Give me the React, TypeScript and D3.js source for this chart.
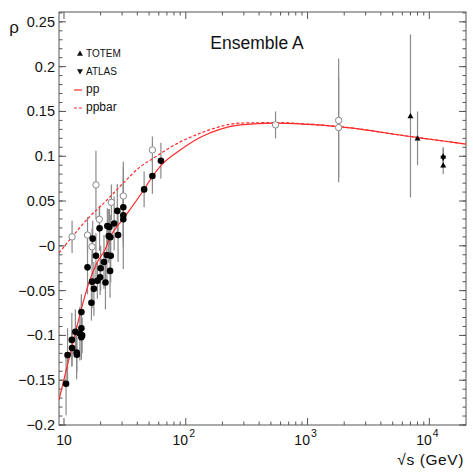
import React from 'react';
import * as d3 from 'd3';

// pp data (filled circles)
const ppS = [10.4, 10.7, 11.6, 11.65, 12.4, 12.7, 12.75, 13.5, 13.9, 13.9, 14.1, 13.9, 15.6, 16.8, 17.0, 17.6, 18.3, 18.8, 19.8, 20.0, 21.3, 21.9, 22.5, 23.9, 24.2,
  17.2, 19.6, 22.7, 23.6, 23.3, 24.0, 25.8, 27.4, 27.8, 30.7, 30.7, 30.7, 45.5, 53.2, 62.5];
const ppRho = [-0.154, -0.122, -0.105, -0.114, -0.096, -0.119, -0.1215, -0.098, -0.092, -0.102, -0.1, -0.074, -0.024, -0.0635, -0.04, -0.048, -0.011, -0.039, -0.035, -0.025, -0.018, -0.041, -0.0103, -0.028, -0.011,
  0.008, 0.0195, 0.022, 0.021, 0.011, 0.0095, 0.025, 0.039, 0.012, 0.043, 0.034, 0.0296, 0.063, 0.078, 0.095];
const ppErr = [0.035, 0.03, 0.03, 0.02, 0.025, 0.03, 0.02, 0.03, 0.035, 0.025, 0.02, 0.02, 0.03, 0.02, 0.03, 0.03, 0.025, 0.02, 0.02, 0.025, 0.03, 0.03, 0.03, 0.03, 0.03,
  0.02, 0.025, 0.02, 0.02, 0.03, 0.025, 0.03, 0.03, 0.03, 0.045, 0.06, 0.025, 0.02, 0.02, 0.02];

// ppbar data (open circles)
const pbS = [11.65, 15.6, 17.0, 18.3, 19.5, 24.5, 30.7, 53.2, 546, 1800, 1800];
const pbRho = [0.010, 0.012, -0.001, 0.068, 0.0296, 0.0485, 0.0556, 0.107, 0.135, 0.140, 0.132];
const pbErr = [0.018, 0.02, 0.02, 0.038, 0.015, 0.02, 0.02, 0.015, 0.015, 0.069, 0.056];

// TOTEM (up triangles), ATLAS (down triangles)
const totemS = [7000, 8000, 13000, 13000];
const totemRho = [0.145, 0.12, 0.09, 0.10];
const totemErr = [0.091, 0.03, 0.01, 0.01];
const atlasS = [13000];
const atlasRho = [0.098];
const atlasErr = [0.011];

// model curves
const ppCurveS = [9.1, 10, 11.6, 13.5, 15.85, 18.5, 21.75, 24, 31, 45, 53, 63, 90, 131, 190, 280, 540, 1000, 1800, 7000, 13000, 20000];
const ppCurveRho = [-0.172, -0.149, -0.113, -0.077, -0.043, -0.02, -0.004, 0.01, 0.031, 0.062, 0.077, 0.09, 0.107, 0.121, 0.13, 0.135, 0.137, 0.1355, 0.133, 0.122, 0.117, 0.1136];
const pbCurveS = [9.1, 11.65, 15.85, 21.75, 31.7, 42, 53, 90, 131, 190, 280, 540, 1000, 1800, 7000, 13000, 20000];
const pbCurveRho = [-0.008, 0.01, 0.031, 0.049, 0.072, 0.088, 0.097, 0.116, 0.1256, 0.133, 0.137, 0.1375, 0.136, 0.1332, 0.122, 0.117, 0.1136];

const yMajor = [0.25, 0.2, 0.15, 0.1, 0.05, 0, -0.05, -0.1, -0.15, -0.2];
const yLabels = ['0.25', '0.2', '0.15', '0.1', '0.05', '\u22120', '\u22120.05', '\u22120.1', '\u22120.15', '\u22120.2'];
const xMajor = [10, 100, 1000, 10000];
const xExp = ['', '2', '3', '4'];

const L = 59, R = 466, T = 12, B = 425;
const font = 'Liberation Sans, Arial, sans-serif';

export default function App() {
  const x = d3.scaleLog().domain([9.1, 20000]).range([L, R]);
  const y = d3.scaleLinear().domain([-0.2, 0.261]).range([B, T]);

  const yMinor = d3.range(-20, 27).map((i) => i / 100);
  const xMinor: number[] = [];
  [1, 10, 100, 1000, 10000].forEach((dec) => {
    for (let k = 2; k <= 9; k++) {
      const v = dec * k;
      if (v > 9.1 && v < 20000) xMinor.push(v);
    }
  });

  const line = d3.line<[number, number]>().x((d) => x(d[0])).y((d) => y(d[1])).curve(d3.curveMonotoneX);
  const ppPath = line(ppCurveS.map((s, i) => [s, ppCurveRho[i]]))!;
  const pbPath = line(pbCurveS.map((s, i) => [s, pbCurveRho[i]]))!;

  const errBars = (S: number[], V: number[], E: number[], key: string) =>
    S.map((s, i) => (
      <line key={key + i} x1={x(s)} x2={x(s)} y1={y(V[i] - E[i])} y2={y(V[i] + E[i])} stroke="#8a8a8a" strokeWidth={1.2} />
    ));

  const tri = (cx: number, cy: number, up: boolean, r = 3.6) =>
    up
      ? `M${cx},${cy - r} L${cx + r},${cy + r * 0.75} L${cx - r},${cy + r * 0.75} Z`
      : `M${cx},${cy + r} L${cx + r},${cy - r * 0.75} L${cx - r},${cy - r * 0.75} Z`;

  return (
    <svg width={473} height={473} style={{ position: 'absolute', left: 0, top: 0, background: '#fff' }} fontFamily={font}>
      <defs>
        <clipPath id="plot">
          <rect x={L} y={T} width={R - L} height={B - T} />
        </clipPath>
      </defs>

      {/* frame */}
      <rect x={L} y={T} width={R - L} height={B - T} fill="none" stroke="#555" strokeWidth={1} />

      {/* y ticks, left and right, inward */}
      {yMinor.map((v, i) => (
        <g key={'ym' + i} stroke="#555">
          <line x1={L} x2={L + 3.5} y1={y(v)} y2={y(v)} />
          <line x1={R} x2={R - 3.5} y1={y(v)} y2={y(v)} />
        </g>
      ))}
      {yMajor.map((v, i) => (
        <g key={'yM' + i} stroke="#555">
          <line x1={L} x2={L + 7} y1={y(v)} y2={y(v)} />
          <line x1={R} x2={R - 7} y1={y(v)} y2={y(v)} />
        </g>
      ))}
      {yMajor.map((v, i) => (
        <text key={'yl' + i} x={55} y={y(v) + 5} textAnchor="end" fontSize={14.5} fill="#111">
          {yLabels[i]}
        </text>
      ))}

      {/* x ticks, bottom and top, inward */}
      {xMinor.map((v, i) => (
        <g key={'xm' + i} stroke="#555">
          <line x1={x(v)} x2={x(v)} y1={B} y2={B - 3.5} />
          <line x1={x(v)} x2={x(v)} y1={T} y2={T + 3.5} />
        </g>
      ))}
      {xMajor.map((v, i) => (
        <g key={'xM' + i} stroke="#555">
          <line x1={x(v)} x2={x(v)} y1={B} y2={B - 7} />
          <line x1={x(v)} x2={x(v)} y1={T} y2={T + 7} />
        </g>
      ))}
      {xMajor.map((v, i) => (
        <text key={'xl' + i} x={x(v) + (xExp[i] ? -2 : 0)} y={445} textAnchor="middle" fontSize={14} fill="#111">
          10
          {xExp[i] && (
            <tspan dy={-8} dx={1} fontSize={10.5}>
              {xExp[i]}
            </tspan>
          )}
        </text>
      ))}

      {/* axis titles */}
      <text x={464} y={465} textAnchor="end" fontSize={15.5} fill="#111" letterSpacing={0.6}>
        {'\u221As  (GeV)'}
      </text>
      <text x={14} y={33} textAnchor="middle" fontSize={17} fill="#111">
        ρ
      </text>
      <text x={257} y={48.5} textAnchor="middle" fontSize={17.5} fill="#111">
        Ensemble A
      </text>

      {/* legend */}
      <path d={tri(80, 53.5, true, 3)} fill="#111" />
      <text x={86} y={57} fontSize={10} fill="#111">TOTEM</text>
      <path d={tri(80, 71.5, false, 3)} fill="#111" />
      <text x={86} y={75} fontSize={10} fill="#111">ATLAS</text>
      <line x1={74} x2={82} y1={90} y2={90} stroke="#ff2a2a" strokeWidth={1.2} />
      <text x={86} y={93} fontSize={12} fill="#111">pp</text>
      <line x1={74} x2={83} y1={108} y2={108} stroke="#ff2a2a" strokeWidth={1.2} strokeDasharray="3,2" />
      <text x={86} y={111} fontSize={12} fill="#111">ppbar</text>

      <g clipPath="url(#plot)">
        {errBars(ppS, ppRho, ppErr, 'pe')}
        {errBars(pbS, pbRho, pbErr, 'be')}
        {errBars(totemS, totemRho, totemErr, 'te')}
        {errBars(atlasS, atlasRho, atlasErr, 'ae')}

        <path d={pbPath} fill="none" stroke="#ff2a2a" strokeWidth={1.2} strokeDasharray="3,2" />
        <path d={ppPath} fill="none" stroke="#ff2a2a" strokeWidth={1.2} />

        {pbS.map((s, i) => (
          <circle key={'pb' + i} cx={x(s)} cy={y(pbRho[i])} r={3.2} fill="#fff" stroke="#888" strokeWidth={1} />
        ))}
        {ppS.map((s, i) => (
          <circle key={'pp' + i} cx={x(s)} cy={y(ppRho[i])} r={3.3} fill="#000" />
        ))}
        {totemS.map((s, i) => (
          <path key={'to' + i} d={tri(x(s), y(totemRho[i]), true, 3)} fill="#000" />
        ))}
        {atlasS.map((s, i) => (
          <path key={'at' + i} d={tri(x(s), y(atlasRho[i]), false, 3)} fill="#000" />
        ))}
      </g>
    </svg>
  );
}
